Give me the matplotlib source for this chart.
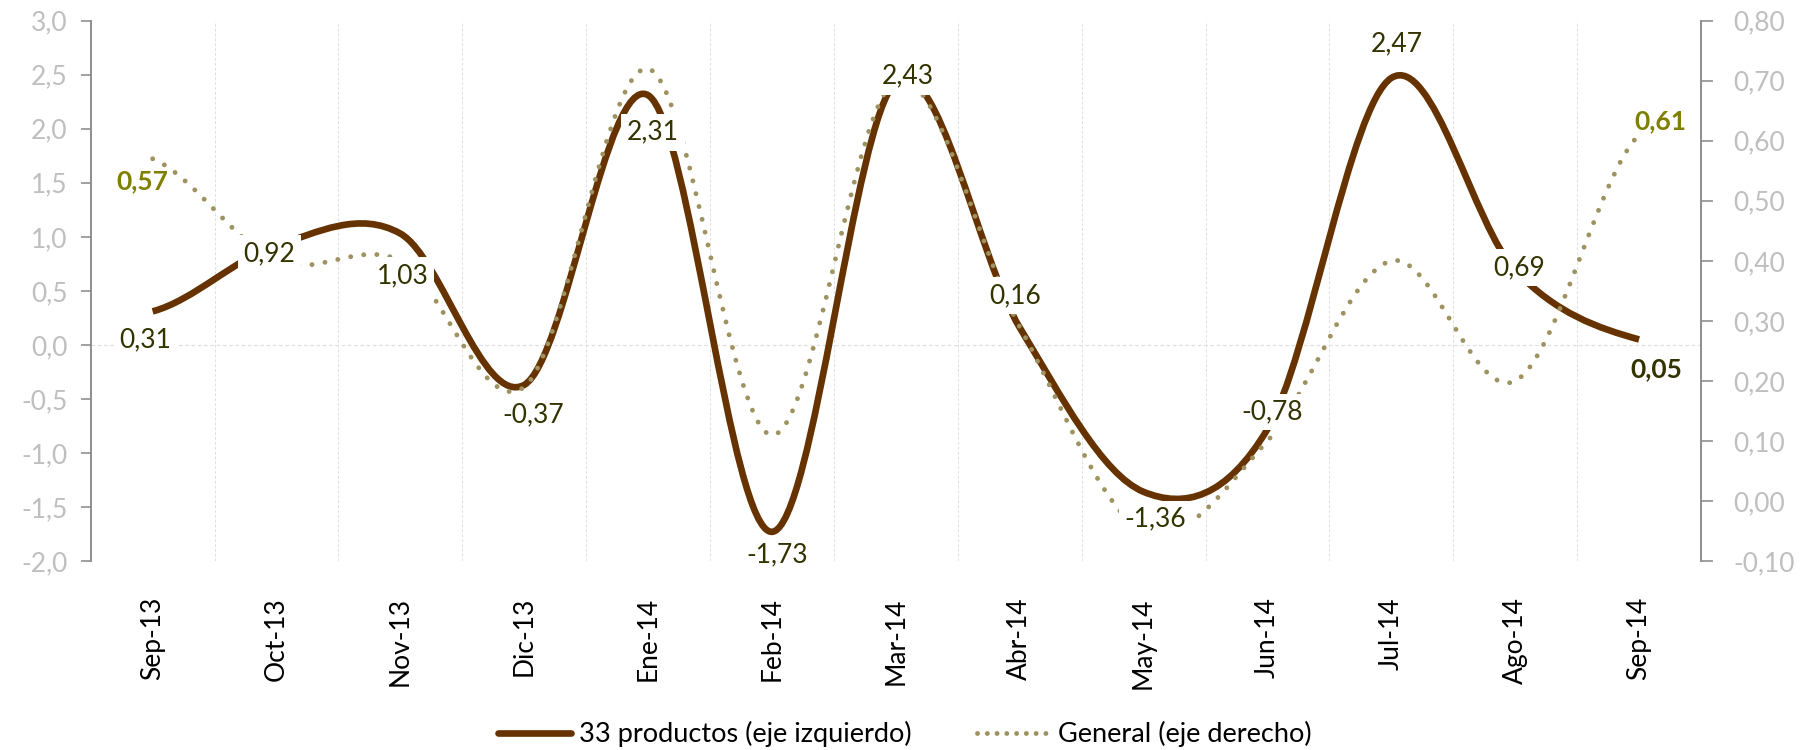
import numpy as np
import matplotlib
matplotlib.use('Agg')
import matplotlib.pyplot as plt
from matplotlib.path import Path
from matplotlib.patches import PathPatch
from matplotlib.lines import Line2D
from matplotlib.ticker import FuncFormatter, FixedLocator

plt.rcParams['font.family'] = ['Lato', 'DejaVu Sans']

# ---------------- data ----------------
months = ['Sep-13', 'Oct-13', 'Nov-13', 'Dic-13', 'Ene-14', 'Feb-14', 'Mar-14',
          'Abr-14', 'May-14', 'Jun-14', 'Jul-14', 'Ago-14', 'Sep-14']
productos33 = [0.31, 0.92, 1.03, -0.37, 2.31, -1.73, 2.43, 0.16, -1.36, -0.78, 2.47, 0.69, 0.05]
general = [0.57, 0.40, 0.40, 0.19, 0.72, 0.11, 0.70, 0.29, -0.05, 0.10, 0.40, 0.20, 0.61]
left_ticks = [-2.0, -1.5, -1.0, -0.5, 0.0, 0.5, 1.0, 1.5, 2.0, 2.5, 3.0]
right_ticks = [-0.10, 0.00, 0.10, 0.20, 0.30, 0.40, 0.50, 0.60, 0.70, 0.80]
name33 = '33 productos (eje izquierdo)'
name_gen = 'General (eje derecho)'

# ---------------- style ----------------
BROWN = '#663300'
KHAKI = '#9E9260'
LABEL = '#333300'
OLIVE = '#808000'
AXIS = '#868686'
TICKTXT = '#BFBFBF'
GRID = '#E0E0E0'
FS = 19
DOT_LW = 3.5
DOT_STYLE = (0, (0.01, 2.7))

# label offsets in pixels (dx, dy_down)
off33 = [(-7, 28), (-7, 8), (2, 42), (9, 30), (5, 37), (5, 23), (12, -6),
         (-5, -32), (12, 27), (5, -17), (5, -34), (4, -3), (17, 30)]
off_gen = {0: (-10, 22), 12: (21, -14)}


def smooth_path(y):
    """Excel-like smoothed line as cubic Bezier path through the data points."""
    y = np.asarray(y, float)
    n = len(y)
    verts = [(0, y[0])]
    codes = [Path.MOVETO]
    for i in range(n - 1):
        prev = y[i - 1] if i > 0 else y[i]
        nxt = y[i + 2] if i + 2 < n else y[i + 1]
        c1 = (i + 1 / 3, y[i] + (y[i + 1] - prev) / 6)
        c2 = (i + 2 / 3, y[i + 1] - (nxt - y[i]) / 6)
        verts += [c1, c2, (i + 1, y[i + 1])]
        codes += [Path.CURVE4] * 3
    return Path(verts, codes)


def fmt(v, d):
    return f'{v:.{d}f}'.replace('.', ',')


fig = plt.figure(figsize=(18.1, 7.5), dpi=100)
ax = fig.add_axes([90.7 / 1810, 1 - 561 / 750, (1701 - 90.7) / 1810, (561 - 20.7) / 750])
ax2 = ax.twinx()

x = np.arange(len(months))
ax.set_xlim(-0.5, len(months) - 0.5)
ax.set_ylim(left_ticks[0], left_ticks[-1])
ax2.set_ylim(right_ticks[0], right_ticks[-1])

# gridlines between categories + zero line
for b in np.arange(0.5, len(months) - 0.5, 1.0):
    ax.axvline(b, color=GRID, lw=0.7, ls=(0, (3, 2)), zorder=0)
ax.axhline(0, color=GRID, lw=0.9, ls=(0, (3, 2)), zorder=0)

# series
p1 = PathPatch(smooth_path(productos33), fill=False, edgecolor=BROWN, lw=4.8,
               capstyle='butt', joinstyle='round', zorder=2)
ax.add_patch(p1)
p2 = PathPatch(smooth_path(general), fill=False, edgecolor=KHAKI, lw=DOT_LW,
               linestyle=DOT_STYLE, capstyle='round', zorder=3)
ax2.add_patch(p2)

# data labels (drawn on top axes so they cover both lines)
bb = dict(boxstyle='square,pad=0.22', facecolor='white', edgecolor='none')
for i, v in enumerate(productos33):
    dx, dy = off33[i]
    bold = (i == len(productos33) - 1)
    ax2.annotate(fmt(v, 2), xy=(x[i], v), xycoords=ax.transData,
                 xytext=(dx, -dy), textcoords='offset pixels',
                 ha='center', va='center', fontsize=FS, color=LABEL,
                 fontweight='bold' if bold else 'normal', bbox=bb, zorder=10)
for i, (dx, dy) in off_gen.items():
    ax2.annotate(fmt(general[i], 2), xy=(x[i], general[i]),
                 xytext=(dx, -dy), textcoords='offset pixels',
                 ha='center', va='center', fontsize=FS, color=OLIVE,
                 fontweight='bold', zorder=10)

# axes styling
for a in (ax, ax2):
    a.spines['top'].set_visible(False)
    a.spines['bottom'].set_visible(False)
ax.spines['right'].set_visible(False)
ax2.spines['left'].set_visible(False)
ax.spines['left'].set_color(AXIS)
ax.spines['left'].set_linewidth(1.3)
ax2.spines['right'].set_color(AXIS)
ax2.spines['right'].set_linewidth(1.3)

ax.yaxis.set_major_locator(FixedLocator(left_ticks))
ax.yaxis.set_major_formatter(FuncFormatter(lambda v, p: fmt(v, 1)))
ax2.yaxis.set_major_locator(FixedLocator(right_ticks))
ax2.yaxis.set_major_formatter(FuncFormatter(lambda v, p: fmt(v, 2)))
ax.tick_params(axis='y', direction='out', length=7.5, width=1.1, color=AXIS,
               labelsize=FS, labelcolor=TICKTXT, pad=9)
ax2.tick_params(axis='y', direction='out', length=8.5, width=1.1, color=AXIS,
                labelsize=FS, labelcolor=TICKTXT, pad=15)

ax.set_xticks(x)
ax.set_xticklabels(months, rotation=90, fontsize=FS, color='black')
ax.tick_params(axis='x', length=0, pad=26)

handles = [Line2D([], [], color=BROWN, lw=4.8, solid_capstyle='round'),
           Line2D([], [], color=KHAKI, lw=DOT_LW, ls=(0, (0.01, 2.0)), dash_capstyle='round')]
fig.legend(handles, [name33, name_gen], loc='center', bbox_to_anchor=(0.5, 0.021),
           ncol=2, frameon=False, fontsize=19.5, handlelength=2.7, handletextpad=0.3,
           columnspacing=2.4)

fig.savefig('out.png', dpi=100)
